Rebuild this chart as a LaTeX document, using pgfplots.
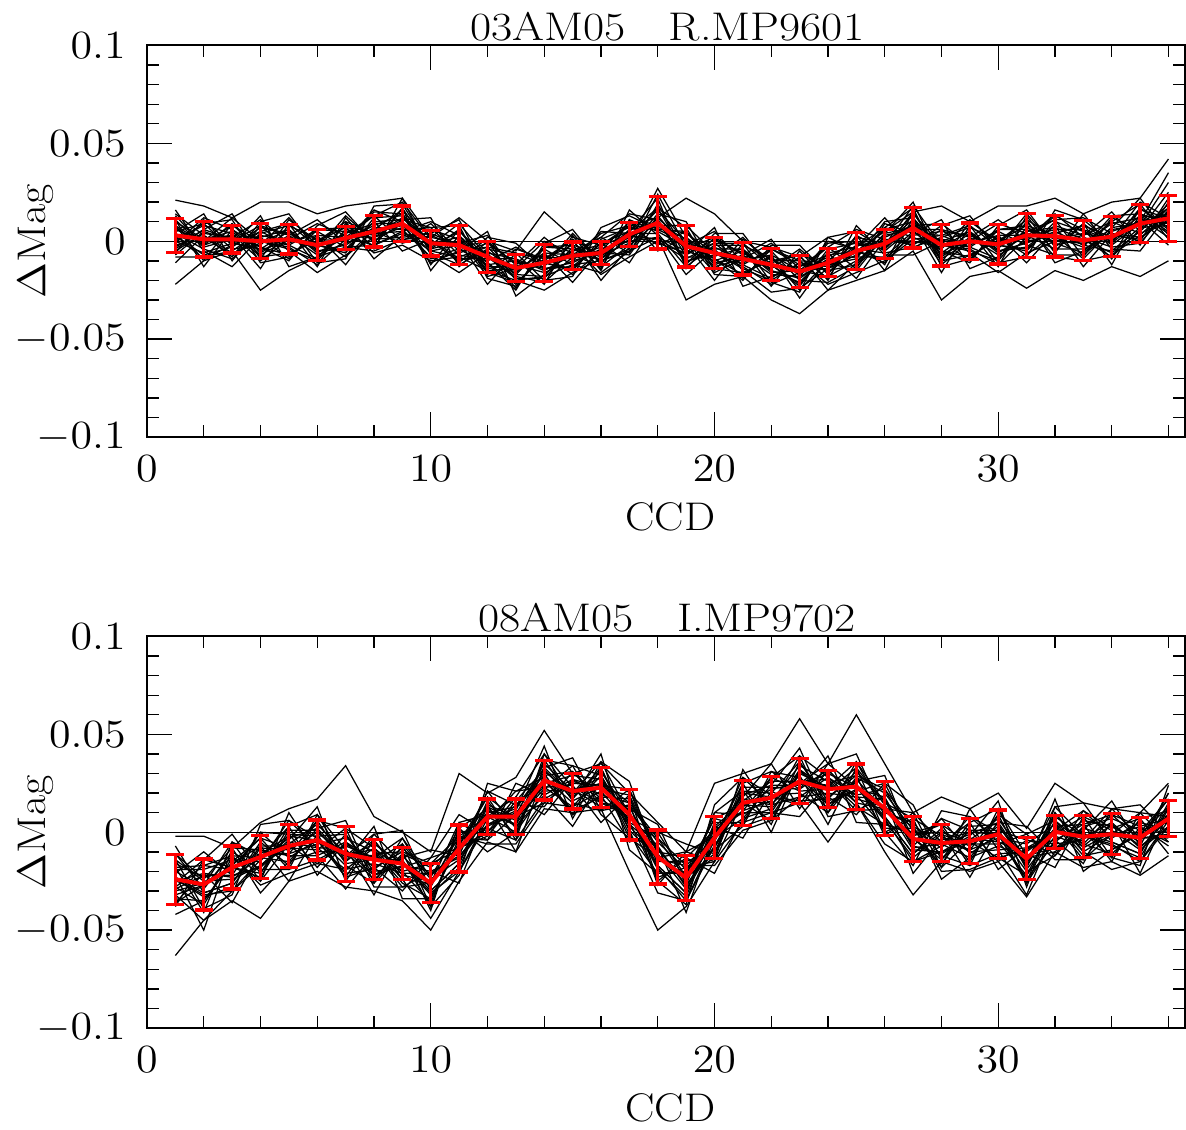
\RequirePackage{fix-cm}
\documentclass[border=0pt]{standalone}
\usepackage{graphicx}
\usepackage{pgfplots}
\usepackage{pgfplotstable}
\pgfplotsset{compat=1.18}
\newcommand\bigf{\fontsize{16}{19}\selectfont}
\newcommand\wide[1]{\scalebox{1.1}[1]{#1}}

\pgfplotstableread{
x c1 c2 c3 c4 c5 c6 c7 c8 c9 c10 c11 c12 c13 c14 c15 c16 c17 c18 c19 c20
1 0.007 -0.004 0.003 0.014 0.001 0.006 -0.007 0.004 0.010 -0.001 0.003 -0.005 0.008 0.005 0.002 0.011 -0.002 0 -0.022 0.021
2 -0.002 0.006 -0.007 0.003 0.008 0 0.005 -0.004 0.001 0.012 -0.009 0.004 -0.001 0.009 0.001 -0.003 0.002 -0.006 -0.010 0.018
3 0.009 0.001 -0.003 -0.006 0.004 0.012 0 -0.009 0.003 0.006 -0.002 0.002 0.008 -0.004 0.005 0.001 -0.007 -0.001 -0.005 0.012
4 -0.005 0.002 0.007 -0.001 -0.010 0 0.008 0.004 -0.003 -0.007 0.005 0.011 0 -0.002 -0.008 0.001 0.003 -0.004 -0.025 0.020
5 0.002 -0.009 0.004 0.006 0.001 -0.004 0.003 0.008 -0.007 0.001 0.009 -0.001 -0.003 0.012 -0.006 -0.002 0 0.005 -0.015 0.020
6 -0.002 0.006 -0.004 -0.006 0.009 -0.010 -0.007 0.001 0.002 -0.001 -0.003 0.005 -0.012 -0.002 0 -0.009 0.003 -0.005 -0.008 0.014
7 -0.006 0.005 0.013 0.002 0.003 0.006 -0.001 0 -0.008 0.010 0.004 -0.003 0.001 -0.005 0.007 0.009 0.002 -0.002 -0.003 0.018
8 0.012 0.001 0 0.013 0.002 0.003 0.005 0.016 0.006 0.004 0.009 -0.005 0.008 0.010 0.005 -0.003 -0.002 0.007 -0.002 0.020
9 0.013 0.002 0.009 0.020 0.007 0.012 -0.001 0.010 0.016 0.005 0.009 0.001 0.014 0.011 0.008 0.017 0.004 0.006 0.005 0.022
10 -0.004 0.004 -0.009 0.001 0.006 -0.002 0.003 -0.006 -0.001 0.010 -0.011 0.002 -0.003 0.007 -0.001 -0.005 0 -0.008 -0.005 0.002
11 0.006 -0.002 -0.006 -0.009 0.001 0.009 -0.003 -0.012 0 0.003 -0.005 -0.001 0.005 -0.007 0.002 -0.002 -0.010 -0.004 -0.008 0.012
12 -0.013 -0.006 -0.001 -0.009 -0.018 -0.008 0 -0.004 -0.011 -0.015 -0.003 0.003 -0.008 -0.010 -0.016 -0.007 -0.005 -0.012 -0.015 0
13 -0.013 -0.024 -0.011 -0.009 -0.014 -0.019 -0.012 -0.007 -0.022 -0.014 -0.006 -0.016 -0.018 -0.003 -0.021 -0.017 -0.015 -0.010 -0.020 -0.005
14 -0.011 -0.003 -0.013 -0.015 0 -0.019 -0.016 -0.008 -0.007 -0.010 -0.012 -0.004 -0.021 -0.011 -0.009 -0.018 -0.006 -0.014 -0.018 0.015
15 -0.015 -0.004 0.004 -0.007 -0.006 -0.003 -0.010 -0.009 -0.017 0.001 -0.005 -0.012 -0.008 -0.014 -0.002 0 -0.007 -0.011 -0.012 0.002
16 0.001 -0.010 -0.011 0.002 -0.009 -0.008 -0.006 0.005 -0.005 -0.007 -0.002 -0.016 -0.003 -0.001 -0.006 -0.014 -0.013 -0.004 -0.010 -0.002
17 0.007 -0.004 0.003 0.014 0.001 0.006 -0.007 0.004 0.010 -0.001 0.003 -0.005 0.008 0.005 0.002 0.011 -0.002 0 -0.005 0.008
18 0.006 0.024 0.001 0.011 0.016 0.008 0.013 0.004 0.009 0.027 -0.001 0.012 0.007 0.017 0.009 0.005 0.010 0.002 0.002 0.012
19 0.005 -0.003 -0.007 -0.010 0 0.008 -0.004 -0.013 -0.001 0.002 -0.006 -0.002 0.004 -0.008 0.001 -0.003 -0.011 -0.005 -0.030 0.022
20 -0.011 -0.004 0.001 -0.007 -0.016 -0.006 0.002 -0.002 -0.009 -0.013 -0.001 0.005 -0.006 -0.008 -0.014 -0.005 -0.003 -0.010 -0.022 0.014
21 -0.008 -0.019 -0.006 -0.004 -0.009 -0.014 -0.007 -0.002 -0.017 -0.009 -0.001 -0.011 -0.013 0.002 -0.016 -0.012 -0.010 -0.005 -0.018 0
22 -0.012 -0.004 -0.014 -0.016 -0.001 -0.020 -0.017 -0.009 -0.008 -0.011 -0.013 -0.005 -0.022 -0.012 -0.010 -0.019 -0.007 -0.015 -0.030 -0.003
23 -0.023 -0.012 -0.004 -0.015 -0.014 -0.011 -0.018 -0.017 -0.025 -0.007 -0.013 -0.020 -0.016 -0.022 -0.010 -0.008 -0.015 -0.019 -0.037 -0.008
24 -0.004 -0.015 -0.016 -0.003 -0.014 -0.013 -0.011 0 -0.010 -0.012 -0.007 -0.021 -0.008 -0.006 -0.011 -0.019 -0.018 -0.009 -0.025 0.002
25 -0.001 -0.012 -0.005 0.006 -0.007 -0.002 -0.015 -0.004 0.002 -0.009 -0.005 -0.013 0 -0.003 -0.006 0.003 -0.010 -0.008 -0.020 -0.005
26 -0.004 0.004 -0.009 0.001 0.006 -0.002 0.003 -0.006 -0.001 0.010 -0.011 0.002 -0.003 0.007 -0.001 -0.005 0 -0.008 -0.015 0.005
27 0.015 0.007 0.003 0 0.010 0.018 0.006 -0.003 0.009 0.012 0.004 0.008 0.014 0.002 0.011 0.007 -0.001 0.005 -0.005 0.015
28 -0.007 0 0.005 -0.003 -0.012 -0.002 0.006 0.002 -0.005 -0.009 0.003 0.009 -0.002 -0.004 -0.010 -0.001 0.001 -0.006 -0.030 0.018
29 0.001 -0.010 0.003 0.005 0 -0.005 0.002 0.007 -0.008 0 0.008 -0.002 -0.004 0.011 -0.007 -0.003 -0.001 0.004 -0.018 0.010
30 -0.002 0.006 -0.004 -0.006 0.009 -0.010 -0.007 0.001 0.002 -0.001 -0.003 0.005 -0.012 -0.002 0 -0.009 0.003 -0.005 -0.015 0.018
31 -0.005 0.006 0.014 0.003 0.004 0.007 0 0.001 -0.007 0.011 0.005 -0.002 0.002 -0.004 0.008 0.010 0.003 -0.001 -0.024 0.018
32 0.010 -0.001 -0.002 0.011 0 0.001 0.003 0.014 0.004 0.002 0.007 -0.007 0.006 0.008 0.003 -0.005 -0.004 0.005 -0.015 0.022
33 0.005 -0.006 0.001 0.012 -0.001 0.004 -0.009 0.002 0.008 -0.003 0.001 -0.007 0.006 0.003 0 0.009 -0.004 -0.002 -0.020 0.014
34 -0.001 0.007 -0.006 0.004 0.009 0.001 0.006 -0.003 0.002 0.013 -0.008 0.005 0 0.010 0.002 -0.002 0.003 -0.005 -0.013 0.020
35 0.017 0.009 0.005 0.002 0.012 0.020 0.008 -0.001 0.011 0.014 0.006 0.010 0.016 0.004 0.013 0.009 0.001 0.007 -0.018 0.022
36 0.007 0.014 0.019 0.011 0.002 0.012 0.030 0.016 0.009 0.005 0.017 0.035 0.012 0.010 0.004 0.013 0.015 0.008 -0.010 0.042
}\toptab

\pgfplotstableread{
x d1 d2 d3 d4 d5 d6 d7 d8 d9 d10
1 0.008 -0.006 0.016 0 -0.011 0.011 0.005 -0.003 0.013 -0.008
2 -0.010 0.011 -0.005 0.009 0.003 -0.013 0.014 0.006 -0.002 -0.008
3 0.009 -0.002 -0.013 0.011 -0.008 0.006 -0.010 0.014 0.003 -0.005
4 -0.006 0.013 0.002 -0.011 0.010 -0.003 0.008 -0.009 -0.014 0.005
5 0.003 -0.013 0.006 -0.008 0.014 -0.010 -0.005 0.011 0.009 -0.002
6 0.011 -0.008 -0.013 0.003 -0.005 0.008 -0.016 0 -0.011 0.006
7 -0.001 0.004 0.012 -0.012 -0.004 0.015 -0.007 0.010 -0.009 0.007
8 0.015 0.013 -0.004 0.007 0.010 -0.001 0.002 -0.009 0.018 -0.006
9 0.014 0 0.022 0.006 -0.005 0.017 0.011 0.003 0.019 -0.002
10 -0.012 0.009 -0.007 0.007 0.001 -0.015 0.012 0.004 -0.004 -0.010
11 0.006 -0.005 -0.016 0.008 -0.011 0.003 -0.013 0.011 0 -0.008
12 -0.014 0.005 -0.006 -0.019 0.002 -0.011 0 -0.017 -0.022 -0.003
13 -0.012 -0.028 -0.009 -0.023 -0.001 -0.025 -0.020 -0.004 -0.006 -0.017
14 0.002 -0.017 -0.022 -0.006 -0.014 -0.001 -0.025 -0.009 -0.020 -0.003
15 -0.010 -0.005 0.003 -0.021 -0.013 0.006 -0.016 0.001 -0.018 -0.002
16 0.004 0.002 -0.015 -0.004 -0.001 -0.012 -0.009 -0.020 0.007 -0.017
17 0.008 -0.006 0.016 0 -0.011 0.011 0.005 -0.003 0.013 -0.008
18 -0.002 0.019 0.003 0.017 0.011 -0.005 0.022 0.014 0.006 0
19 0.005 -0.006 -0.017 0.007 -0.012 0.002 -0.014 0.010 -0.001 -0.009
20 -0.012 0.007 -0.004 -0.017 0.004 -0.009 0.002 -0.015 -0.020 -0.001
21 -0.007 -0.023 -0.004 -0.018 0.004 -0.020 -0.015 0.001 -0.001 -0.012
22 0.001 -0.018 -0.023 -0.007 -0.015 -0.002 -0.026 -0.010 -0.021 -0.004
23 -0.018 -0.013 -0.005 -0.029 -0.021 -0.002 -0.024 -0.007 -0.026 -0.010
24 -0.001 -0.003 -0.020 -0.009 -0.006 -0.017 -0.014 -0.025 0.002 -0.022
25 0 -0.014 0.008 -0.008 -0.019 0.003 -0.003 -0.011 0.005 -0.016
26 -0.012 0.009 -0.007 0.007 0.001 -0.015 0.012 0.004 -0.004 -0.010
27 0.015 0.004 -0.007 0.017 -0.002 0.012 -0.004 0.020 0.009 0.001
28 -0.008 0.011 0 -0.013 0.008 -0.005 0.006 -0.011 -0.016 0.003
29 0.002 -0.014 0.005 -0.009 0.013 -0.011 -0.006 0.010 0.008 -0.003
30 0.011 -0.008 -0.013 0.003 -0.005 0.008 -0.016 0 -0.011 0.006
31 0 0.005 0.013 -0.011 -0.003 0.016 -0.006 0.011 -0.008 0.008
32 0.013 0.011 -0.006 0.005 0.008 -0.003 0 -0.011 0.016 -0.008
33 0.006 -0.008 0.014 -0.002 -0.013 0.009 0.003 -0.005 0.011 -0.010
34 -0.009 0.012 -0.004 0.010 0.004 -0.012 0.015 0.007 -0.001 -0.007
35 0.017 0.006 -0.005 0.019 0 0.014 -0.002 0.022 0.011 0.003
36 0.006 0.025 0.014 0.001 0.022 0.009 0.020 0.003 -0.002 0.017
}\toptabB

\pgfplotstableread{
x y e
1 0.003 0.0087
2 0.001 0.009
3 0.001 0.007
4 0.000 0.009
5 0.001 0.0075
6 -0.002 0.008
7 0.0016 0.006
8 0.005 0.008
9 0.009 0.009
10 -0.001 0.0065
11 -0.002 0.01
12 -0.008 0.008
13 -0.0137 0.007
14 -0.011 0.0094
15 -0.0074 0.007
16 -0.006 0.006
17 0.0035 0.006
18 0.0094 0.0134
19 -0.0025 0.0107
20 -0.006 0.008
21 -0.009 0.0083
22 -0.012 0.0082
23 -0.0155 0.0082
24 -0.011 0.0071
25 -0.005 0.0096
26 -0.0013 0.0074
27 0.0068 0.0103
28 -0.002 0.0106
29 0.000 0.0093
30 -0.0016 0.01
31 0.003 0.0113
32 0.0026 0.0107
33 0.0005 0.0102
34 0.0023 0.0102
35 0.009 0.0096
36 0.0117 0.0117
}\topmean

\pgfplotstableread{
x c1 c2 c3 c4 c5 c6 c7 c8 c9 c10 c11 c12 c13 c14 c15 c16 c17 c18 c19 c20
1 -0.030 -0.022 -0.016 -0.025 -0.036 -0.024 -0.014 -0.019 -0.028 -0.032 -0.018 -0.011 -0.024 -0.026 -0.034 -0.023 -0.020 -0.029 -0.063 -0.002
2 -0.026 -0.050 -0.023 -0.021 -0.027 -0.033 -0.025 -0.019 -0.037 -0.027 -0.017 -0.029 -0.032 -0.014 -0.035 -0.031 -0.028 -0.022 -0.045 -0.002
3 -0.018 -0.008 -0.020 -0.023 -0.005 -0.028 -0.024 -0.014 -0.013 -0.017 -0.019 -0.010 -0.030 -0.018 -0.016 -0.026 -0.012 -0.022 -0.035 -0.008
4 -0.023 -0.009 0 -0.013 -0.012 -0.008 -0.017 -0.015 -0.025 -0.003 -0.011 -0.019 -0.014 -0.021 -0.007 -0.005 -0.013 -0.018 -0.044 0.005
5 0.001 -0.012 -0.013 0.003 -0.011 -0.009 -0.007 0.006 -0.006 -0.008 -0.002 -0.019 -0.003 -0.001 -0.007 -0.017 -0.015 -0.005 -0.025 0.012
6 0.001 -0.012 -0.004 0.009 -0.006 0 -0.016 -0.003 0.004 -0.009 -0.004 -0.014 0.002 -0.002 -0.005 0.006 -0.010 -0.008 -0.020 0.017
7 -0.015 -0.005 -0.021 -0.009 -0.003 -0.012 -0.006 -0.017 -0.011 0.002 -0.023 -0.007 -0.013 -0.001 -0.011 -0.016 -0.010 -0.019 -0.028 0.034
8 -0.004 -0.014 -0.019 -0.022 -0.010 -0.001 -0.015 -0.026 -0.012 -0.008 -0.018 -0.013 -0.006 -0.020 -0.009 -0.014 -0.024 -0.016 -0.030 0.008
9 -0.022 -0.014 -0.008 -0.017 -0.028 -0.016 -0.006 -0.011 -0.020 -0.024 -0.010 -0.003 -0.016 -0.018 -0.026 -0.015 -0.012 -0.021 -0.035 0
10 -0.025 -0.038 -0.022 -0.020 -0.026 -0.032 -0.024 -0.018 -0.036 -0.026 -0.016 -0.028 -0.031 -0.013 -0.034 -0.030 -0.027 -0.021 -0.050 -0.010
11 -0.008 0.002 -0.010 -0.013 0.005 -0.018 -0.014 -0.004 -0.003 -0.007 -0.009 0 -0.020 -0.008 -0.006 -0.016 -0.002 -0.012 -0.025 0.030
12 -0.002 0.012 0.021 0.008 0.009 0.013 0.004 0.006 -0.004 0.018 0.010 0.002 0.007 0 0.014 0.016 0.008 0.003 -0.005 0.020
13 0.016 0.003 0.002 0.018 0.004 0.006 0.008 0.021 0.009 0.007 0.013 -0.004 0.012 0.014 0.008 -0.002 0 0.010 -0.010 0.028
14 0.032 0.019 0.027 0.040 0.025 0.031 0.015 0.028 0.035 0.022 0.027 0.017 0.033 0.029 0.026 0.037 0.021 0.023 0.012 0.052
15 0.017 0.027 0.011 0.023 0.029 0.020 0.026 0.015 0.021 0.034 0.009 0.025 0.019 0.031 0.021 0.016 0.022 0.013 0.010 0.030
16 0.033 0.023 0.018 0.015 0.027 0.036 0.022 0.011 0.025 0.029 0.019 0.024 0.031 0.017 0.028 0.023 0.013 0.021 0.012 0.035
17 0.003 0.011 0.017 0.008 -0.003 0.009 0.019 0.014 0.005 0.001 0.015 0.022 0.009 0.007 -0.001 0.010 0.013 0.004 -0.020 0.020
18 -0.012 -0.025 -0.009 -0.007 -0.013 -0.019 -0.011 -0.005 -0.023 -0.013 -0.003 -0.015 -0.018 0 -0.021 -0.017 -0.014 -0.008 -0.050 0.005
19 -0.023 -0.013 -0.025 -0.028 -0.010 -0.033 -0.029 -0.019 -0.018 -0.022 -0.024 -0.015 -0.035 -0.023 -0.021 -0.031 -0.017 -0.027 -0.038 -0.010
20 -0.013 0.001 0.010 -0.003 -0.002 0.002 -0.007 -0.005 -0.015 0.007 -0.001 -0.009 -0.004 -0.011 0.003 0.005 -0.003 -0.008 -0.015 0.025
21 0.023 0.010 0.009 0.025 0.011 0.013 0.015 0.028 0.016 0.014 0.020 0.003 0.019 0.021 0.015 0.005 0.007 0.017 0.005 0.030
22 0.023 0.010 0.018 0.031 0.016 0.022 0.006 0.019 0.026 0.013 0.018 0.008 0.024 0.020 0.017 0.028 0.012 0.014 0.010 0.035
23 0.022 0.032 0.016 0.028 0.034 0.025 0.031 0.020 0.026 0.039 0.014 0.030 0.024 0.036 0.026 0.021 0.027 0.018 0.015 0.058
24 0.032 0.022 0.017 0.014 0.026 0.035 0.021 0.010 0.024 0.028 0.018 0.023 0.030 0.016 0.027 0.022 0.012 0.020 -0.005 0.035
25 0.017 0.025 0.031 0.022 0.011 0.023 0.033 0.028 0.019 0.015 0.029 0.036 0.023 0.021 0.013 0.024 0.027 0.018 0.015 0.060
26 0.013 0 0.016 0.018 0.012 0.006 0.014 0.020 0.002 0.012 0.022 0.010 0.007 0.025 0.004 0.008 0.011 0.017 -0.010 0.035
27 -0.003 0.007 -0.005 -0.008 0.010 -0.013 -0.009 0.001 0.002 -0.002 -0.004 0.005 -0.015 -0.003 -0.001 -0.011 0.003 -0.007 -0.032 0.010
28 -0.016 -0.002 0.007 -0.006 -0.005 -0.001 -0.010 -0.008 -0.018 0.004 -0.004 -0.012 -0.007 -0.014 0 0.002 -0.006 -0.011 -0.015 0.018
29 0.003 -0.010 -0.011 0.005 -0.009 -0.007 -0.005 0.008 -0.004 -0.006 0 -0.017 -0.001 0.001 -0.005 -0.015 -0.013 -0.003 -0.020 0.012
30 0.004 -0.009 -0.001 0.012 -0.003 0.003 -0.013 0 0.007 -0.006 -0.001 -0.011 0.005 0.001 -0.002 0.009 -0.007 -0.005 -0.015 0.020
31 -0.018 -0.008 -0.024 -0.012 -0.006 -0.015 -0.009 -0.020 -0.014 -0.001 -0.026 -0.010 -0.016 -0.004 -0.014 -0.019 -0.013 -0.022 -0.033 0.002
32 0.010 0 -0.005 -0.008 0.004 0.013 -0.001 -0.012 0.002 0.006 -0.004 0.001 0.008 -0.006 0.005 0 -0.010 -0.002 -0.010 0.025
33 -0.008 0 0.006 -0.003 -0.014 -0.002 0.008 0.003 -0.006 -0.010 0.004 0.011 -0.002 -0.004 -0.012 -0.001 0.002 -0.007 -0.018 0.015
34 0 -0.013 0.003 0.005 -0.001 -0.007 0.001 0.007 -0.011 -0.001 0.009 -0.003 -0.006 0.012 -0.009 -0.005 -0.002 0.004 -0.015 0.012
35 -0.003 0.007 -0.005 -0.008 0.010 -0.013 -0.009 0.001 0.002 -0.002 -0.004 0.005 -0.015 -0.003 -0.001 -0.011 0.003 -0.007 -0.022 0.010
36 -0.003 0.011 0.020 0.007 0.008 0.012 0.003 0.005 -0.005 0.017 0.009 0.001 0.006 -0.001 0.013 0.015 0.007 0.002 -0.012 0.025
}\bottab

\pgfplotstableread{
x d1 d2 d3 d4 d5 d6 d7 d8 d9 d10
1 -0.021 -0.042 -0.018 -0.036 -0.007 -0.038 -0.032 -0.011 -0.014 -0.028
2 -0.010 -0.035 -0.041 -0.021 -0.031 -0.014 -0.045 -0.024 -0.039 -0.017
3 -0.022 -0.015 -0.005 -0.036 -0.026 -0.001 -0.030 -0.008 -0.032 -0.012
4 0 -0.003 -0.025 -0.010 -0.007 -0.021 -0.017 -0.031 0.004 -0.027
5 -0.001 -0.019 0.010 -0.011 -0.025 0.003 -0.004 -0.015 0.006 -0.021
6 -0.018 0.009 -0.012 0.006 -0.001 -0.022 0.013 0.002 -0.008 -0.016
7 -0.001 -0.015 -0.029 0.002 -0.023 -0.005 -0.025 0.006 -0.008 -0.019
8 -0.022 0.003 -0.011 -0.028 -0.001 -0.018 -0.004 -0.026 -0.032 -0.008
9 -0.013 -0.034 -0.010 -0.028 0.001 -0.030 -0.024 -0.003 -0.006 -0.020
10 -0.009 -0.034 -0.040 -0.020 -0.030 -0.013 -0.044 -0.023 -0.038 -0.016
11 -0.012 -0.005 0.005 -0.026 -0.016 0.009 -0.020 0.002 -0.022 -0.002
12 0.021 0.018 -0.004 0.011 0.014 0 0.004 -0.010 0.025 -0.006
13 0.014 -0.004 0.025 0.004 -0.010 0.018 0.011 0 0.021 -0.006
14 0.013 0.040 0.019 0.037 0.030 0.009 0.044 0.033 0.023 0.015
15 0.031 0.017 0.003 0.034 0.009 0.027 0.007 0.038 0.024 0.013
16 0.015 0.040 0.026 0.009 0.036 0.019 0.033 0.011 0.005 0.029
17 0.012 -0.009 0.015 -0.003 0.026 -0.005 0.001 0.022 0.019 0.005
18 0.004 -0.021 -0.027 -0.007 -0.017 0 -0.031 -0.010 -0.025 -0.003
19 -0.027 -0.020 -0.010 -0.041 -0.031 -0.006 -0.035 -0.013 -0.037 -0.017
20 0.010 0.007 -0.015 0 0.003 -0.011 -0.007 -0.021 0.014 -0.017
21 0.021 0.003 0.032 0.011 -0.003 0.025 0.018 0.007 0.028 0.001
22 0.004 0.031 0.010 0.028 0.021 0 0.035 0.024 0.014 0.006
23 0.036 0.022 0.008 0.039 0.014 0.032 0.012 0.043 0.029 0.018
24 0.014 0.039 0.025 0.008 0.035 0.018 0.032 0.010 0.004 0.028
25 0.026 0.005 0.029 0.011 0.040 0.009 0.015 0.036 0.033 0.019
26 0.029 0.004 -0.002 0.018 0.008 0.025 -0.006 0.015 0 0.022
27 -0.007 0 0.010 -0.021 -0.011 0.014 -0.015 0.007 -0.017 0.003
28 0.007 0.004 -0.018 -0.003 0 -0.014 -0.010 -0.024 0.011 -0.020
29 0.001 -0.017 0.012 -0.009 -0.023 0.005 -0.002 -0.013 0.008 -0.019
30 -0.015 0.012 -0.009 0.009 0.002 -0.019 0.016 0.005 -0.005 -0.013
31 -0.004 -0.018 -0.032 -0.001 -0.026 -0.008 -0.028 0.003 -0.011 -0.022
32 -0.008 0.017 0.003 -0.014 0.013 -0.004 0.010 -0.012 -0.018 0.006
33 0.001 -0.020 0.004 -0.014 0.015 -0.016 -0.010 0.011 0.008 -0.006
34 0.016 -0.009 -0.015 0.005 -0.005 0.012 -0.019 0.002 -0.013 0.009
35 -0.007 0 0.010 -0.021 -0.011 0.014 -0.015 0.007 -0.017 0.003
36 0.020 0.017 -0.005 0.010 0.013 -0.001 0.003 -0.011 0.024 -0.007
}\bottabB

\pgfplotstableread{
x y e
1 -0.024 0.0128
2 -0.0267 0.013
3 -0.018 0.011
4 -0.0126 0.011
5 -0.007 0.011
6 -0.004 0.0102
7 -0.011 0.014
8 -0.014 0.0102
9 -0.016 0.0083
10 -0.026 0.01
11 -0.0083 0.012
12 0.008 0.009
13 0.008 0.009
14 0.0265 0.01
15 0.021 0.0091
16 0.0228 0.0102
17 0.009 0.013
18 -0.0126 0.0138
19 -0.0233 0.0115
20 -0.0028 0.0107
21 0.015 0.0115
22 0.0176 0.0107
23 0.026 0.0115
24 0.022 0.0094
25 0.0233 0.0115
26 0.0122 0.0138
27 -0.0034 0.0114
28 -0.0055 0.0093
29 -0.0046 0.0115
30 -0.001 0.0124
31 -0.0135 0.0107
32 0.0002 0.0084
33 -0.0023 0.0107
34 -0.001 0.0104
35 -0.0028 0.0105
36 0.007 0.0093
}\botmean

\pgfplotsset{
  every axis title shift=0pt,
  panel/.style={
    scale only axis, width=415.4pt, height=156.6pt,
    xmin=0, xmax=36.6, ymin=-0.1, ymax=0.1,
    xtick={0,10,20,30,40}, minor x tick num=4,
    xticklabels={\wide{$0$},\wide{$10$},\wide{$20$},\wide{$30$},\wide{$40$}},
    ytick={-0.1,-0.05,0,0.05,0.1},
    yticklabels={\wide{$-0.1$},\wide{$-0.05$},\wide{$0$},\wide{$0.05$},\wide{$0.1$}},
    minor y tick num=4,
    tick align=inside, tick pos=both,
    major tick length=10pt, minor tick length=4.8pt,
    axis line style={line width=0.8pt},
    every tick/.style={line width=0.55pt, black},
    tick label style={font=\bigf},
    yticklabel style={xshift=-5pt},
    xticklabel style={yshift=-3.8pt},
    label style={font=\bigf},
    xlabel={\wide{CCD}}, ylabel={\wide{$\Delta$Mag}},
    xlabel style={at={(axis description cs:0.504,0)}, anchor=center, yshift=-32pt},
    ylabel style={at={(axis description cs:-0.107,0.5)}, anchor=center},
    title style={font=\bigf, at={(axis description cs:0.501,1)}, anchor=base, yshift=2pt},
  },
  curve/.style={black, line width=0.5pt, mark=none},
  meanline/.style={red, line width=1.6pt, mark=none,
    error bars/.cd, y dir=both, y explicit,
    error bar style={line width=1.3pt, red},
    error mark options={rotate=90, mark size=3.6pt, line width=1.3pt, red}},
}

\begin{document}
\begin{tikzpicture}
\path[use as bounding box] (0,0) rectangle (474.4pt,452pt);

\begin{axis}[panel, at={(58.8pt,277.2pt)}, anchor=south west,
  title={\scalebox{1.15}[1]{03AM05\hspace{15pt}R.MP9601}}]
  \addplot[black, line width=0.5pt] coordinates {(0,0) (36.6,0)};
  \pgfplotsinvokeforeach{1,...,20}{
    \addplot[curve] table[x=x, y=c#1] {\toptab};
  }
  \pgfplotsinvokeforeach{1,...,10}{
    \addplot[curve] table[x=x, y=d#1] {\toptabB};
  }
  \addplot[meanline] table[x=x, y=y, y error=e] {\topmean};
\end{axis}

\begin{axis}[panel, at={(58.8pt,40.8pt)}, anchor=south west,
  title={\scalebox{1.15}[1]{08AM05\hspace{15pt}I.MP9702}}]
  \addplot[black, line width=0.5pt] coordinates {(0,0) (36.6,0)};
  \pgfplotsinvokeforeach{1,...,20}{
    \addplot[curve] table[x=x, y=c#1] {\bottab};
  }
  \pgfplotsinvokeforeach{1,...,10}{
    \addplot[curve] table[x=x, y=d#1] {\bottabB};
  }
  \addplot[meanline] table[x=x, y=y, y error=e] {\botmean};
\end{axis}
\end{tikzpicture}
\end{document}
